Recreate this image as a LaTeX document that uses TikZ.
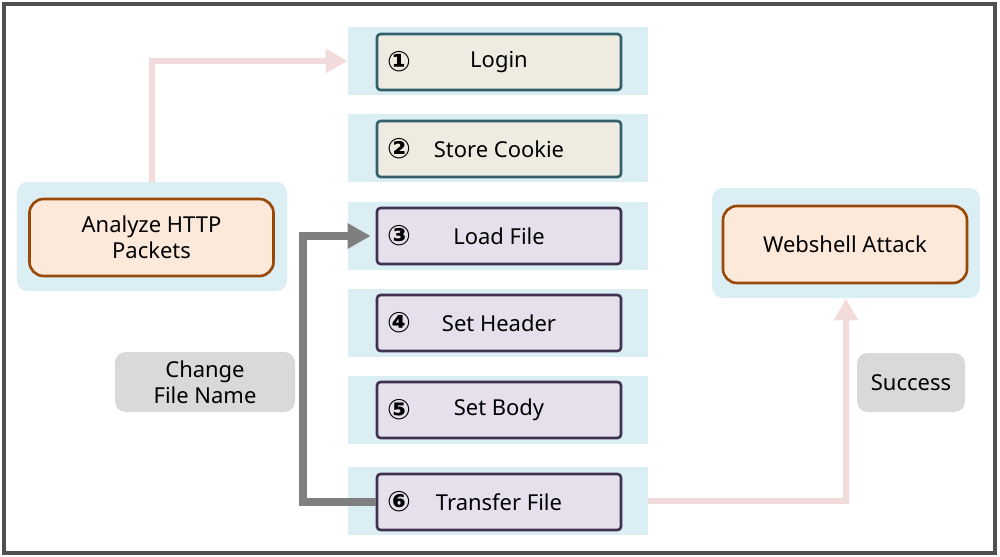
\documentclass[tikz,border=0pt]{standalone}
\usepackage{fontspec}
\setmainfont{Noto Sans}
\newfontfamily\circfont{DejaVu Sans}
\usepackage{tikz}
\usetikzlibrary{arrows.meta}
\definecolor{bandblue}{HTML}{DBEEF4}
\definecolor{beigefill}{HTML}{EEECE1}
\definecolor{tealline}{HTML}{31606B}
\definecolor{lavfill}{HTML}{E5E0EC}
\definecolor{purpline}{HTML}{403151}
\definecolor{peachfill}{HTML}{FDE9D9}
\definecolor{brownline}{HTML}{984807}
\definecolor{notegray}{HTML}{D9D9D9}
\definecolor{arrowgray}{HTML}{7F7F7F}
\definecolor{arrowpink}{HTML}{F2DCDB}
\definecolor{framegray}{HTML}{505050}

\tikzset{
  band/.style={fill=bandblue, minimum width=60mm, minimum height=13.6mm, inner sep=0pt},
  stepbox/.style={draw, line width=1.5pt, rounded corners=2pt, minimum width=48.8mm,
    minimum height=11.2mm, inner sep=0pt, font=\fontsize{12.5}{15}\selectfont},
  firststep/.style={stepbox, fill=beigefill, draw=tealline},
  laterstep/.style={stepbox, fill=lavfill, draw=purpline},
  numtag/.style={font=\circfont\bfseries\fontsize{16}{17}\selectfont, inner sep=0pt},
  backpanel/.style={fill=bandblue, rounded corners=6pt, inner sep=0pt},
  goalbox/.style={draw=brownline, fill=peachfill, line width=1.5pt, rounded corners=8pt,
    minimum width=48.8mm, minimum height=15.4mm, inner sep=0pt, align=center,
    font=\fontsize{12.5}{15}\selectfont},
  notebox/.style={fill=notegray, rounded corners=6pt, inner sep=0pt, align=center,
    font=\fontsize{12.5}{15}\selectfont},
  pinkflow/.style={draw=arrowpink, line width=3.4pt,
    -{Triangle[length=4.4mm, width=4.6mm]}},
  grayflow/.style={draw=arrowgray, line width=4pt,
    -{Triangle[length=4.6mm, width=4.8mm]}, shorten >=1mm}
}

\begin{document}
\begin{tikzpicture}[x=0.2mm, y=-0.2mm]
\useasboundingbox (0,0) rectangle (1000,556);
\draw[framegray, line width=2.4pt] (4,4) rectangle (995,553);

% blue bands behind the steps
\node[band] (b1) at (498,61) {};
\node[band] (b2) at (498,148) {};
\node[band] (b3) at (498,236) {};
\node[band] (b4) at (498,323) {};
\node[band] (b5) at (498,410) {};
\node[band] (b6) at (498,501) {};

% steps
\node[firststep] (s1) at (499,62) {Login};
\node[firststep] (s2) at (499,149) {Store Cookie};
\node[laterstep] (s3) at (499,236) {Load File};
\node[laterstep] (s4) at (499,323) {Set Header};
\node[laterstep] (s5) at (499,410) {Set Body};
\node[laterstep] (s6) at (499,502) {Transfer File};

\node[numtag] (n1) at (399,62) {①};
\node[numtag] (n2) at (399,149) {②};
\node[numtag] (n3) at (399,236) {③};
\node[numtag] (n4) at (399,323) {④};
\node[numtag] (n5) at (399,410) {⑤};
\node[numtag] (n6) at (399,502) {⑥};

% start and goal
\node[backpanel, minimum width=54mm, minimum height=21.8mm] (apanel) at (152,236.5) {};
\node[goalbox] (analyze) at (151.5,237.5) {Analyze HTTP\\Packets};
\node[backpanel, minimum width=53.6mm, minimum height=22mm] (wpanel) at (846,243) {};
\node[goalbox] (webshell) at (845,244.5) {Webshell Attack};

% notes
\node[notebox, minimum width=36mm, minimum height=12mm] (rename) at (205,382) {Change\\File Name};
\node[notebox, minimum width=21.6mm, minimum height=11.8mm] (success) at (911,382.5) {Success};

% flows
\coordinate (loopback) at (303,400);
\draw[pinkflow] (apanel.north) |- (b1.west);
\draw[grayflow] (s6.west) -| (loopback) |- (s3.west);
\draw[pinkflow] (b6.east) -| (wpanel.south);
\end{tikzpicture}
\end{document}
